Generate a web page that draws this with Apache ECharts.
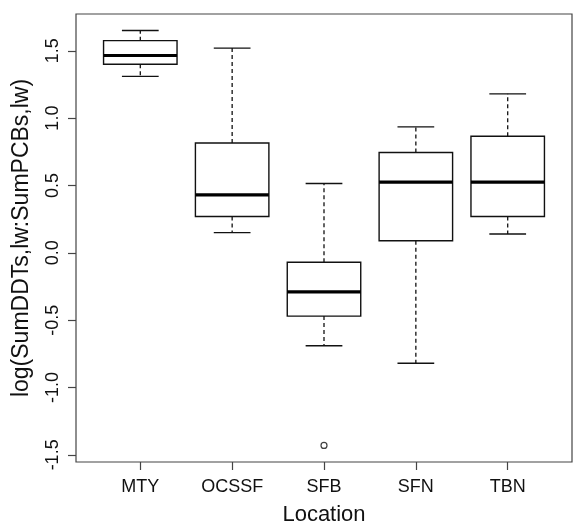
<!DOCTYPE html>
<html>
<head>
<meta charset="utf-8">
<script src="https://cdn.jsdelivr.net/npm/echarts@6/dist/echarts.min.js"></script>
<style>
  html, body { margin: 0; padding: 0; background: #fff; }
  #chart { width: 573px; height: 523px; }
</style>
</head>
<body>
<div id="chart"></div>
<script>
// locations along the x axis
const locations = ["MTY", "OCSSF", "SFB", "SFN", "TBN"];
// five-number summaries: lower whisker, Q1, median, Q3, upper whisker
const lowerWhisker = [1.31, 0.15, -0.69, -0.82, 0.14];
const q1 = [1.40, 0.27, -0.47, 0.09, 0.27];
const median = [1.465, 0.43, -0.29, 0.525, 0.525];
const q3 = [1.575, 0.815, -0.07, 0.745, 0.865];
const upperWhisker = [1.65, 1.52, 0.515, 0.935, 1.18];
// outliers: [location index, value]
const outliers = [[2, -1.43]];
// tick labels on the y axis
const yTicks = [-1.5, -1.0, -0.5, 0.0, 0.5, 1.0, 1.5];

const boxData = locations.map(function (name, i) {
  return [i + 1, lowerWhisker[i], q1[i], median[i], q3[i], upperWhisker[i]];
});
const outlierData = outliers.map(function (o) {
  return [o[0] + 1, o[1]];
});

const font = "'Liberation Sans', Arial, sans-serif";
const ink = "#111";

const chart = echarts.init(document.getElementById("chart"));
chart.setOption({
  animation: false,
  backgroundColor: "#fff",
  grid: {
    left: 76,
    top: 14,
    width: 496,
    height: 448,
    outerBoundsMode: "none",
    containLabel: false,
    show: true,
    borderColor: "#444",
    borderWidth: 1.2
  },
  xAxis: {
    type: "value",
    min: 0.3,
    max: 5.7,
    name: "Location",
    nameLocation: "middle",
    nameGap: 42,
    nameTextStyle: { fontFamily: font, fontSize: 22, color: ink },
    axisLine: { show: false, onZero: false },
    splitLine: { show: false },
    axisTick: {
      show: true,
      inside: false,
      length: 8,
      customValues: [1, 2, 3, 4, 5],
      lineStyle: { color: "#444", width: 1.2 }
    },
    axisLabel: {
      customValues: [1, 2, 3, 4, 5],
      margin: 16,
      fontFamily: font,
      fontSize: 18,
      color: ink,
      formatter: function (v) {
        return locations[Math.round(v) - 1] || "";
      }
    }
  },
  yAxis: {
    type: "value",
    min: -1.553,
    max: 1.773,
    name: "log(SumDDTs,lw:SumPCBs,lw)",
    nameLocation: "middle",
    nameRotate: 90,
    nameGap: 43,
    nameTextStyle: { fontFamily: font, fontSize: 23, color: ink },
    axisLine: { show: false, onZero: false },
    splitLine: { show: false },
    axisTick: {
      show: true,
      inside: false,
      length: 8,
      customValues: yTicks,
      lineStyle: { color: "#444", width: 1.2 }
    },
    axisLabel: {
      customValues: yTicks,
      rotate: 90,
      margin: 14,
      fontFamily: font,
      fontSize: 18,
      color: ink,
      formatter: function (v) {
        return v.toFixed(1);
      }
    }
  },
  series: [
    {
      type: "custom",
      data: boxData,
      encode: { x: 0, y: [1, 2, 3, 4, 5] },
      renderItem: function (params, api) {
        const x = api.value(0);
        const lo = api.coord([x, api.value(1)]);
        const b1 = api.coord([x, api.value(2)]);
        const md = api.coord([x, api.value(3)]);
        const b3 = api.coord([x, api.value(4)]);
        const hi = api.coord([x, api.value(5)]);
        const boxW = api.size([0.8, 0])[0];
        const half = boxW / 2;
        const cap = half / 2;
        const cx = lo[0];
        const solid = { stroke: "#111", lineWidth: 1.4, fill: null };
        const dashed = { stroke: "#111", lineWidth: 1.3, lineDash: [4, 3], fill: null };
        return {
          type: "group",
          children: [
            { type: "line", shape: { x1: cx, y1: b3[1], x2: cx, y2: hi[1] }, style: dashed },
            { type: "line", shape: { x1: cx, y1: b1[1], x2: cx, y2: lo[1] }, style: dashed },
            { type: "line", shape: { x1: cx - cap, y1: hi[1], x2: cx + cap, y2: hi[1] }, style: solid },
            { type: "line", shape: { x1: cx - cap, y1: lo[1], x2: cx + cap, y2: lo[1] }, style: solid },
            {
              type: "rect",
              shape: { x: cx - half, y: b3[1], width: boxW, height: b1[1] - b3[1] },
              style: { stroke: "#111", lineWidth: 1.4, fill: "#fff" }
            },
            {
              type: "line",
              shape: { x1: cx - half, y1: md[1], x2: cx + half, y2: md[1] },
              style: { stroke: "#000", lineWidth: 3.2 }
            }
          ]
        };
      }
    },
    {
      type: "scatter",
      data: outlierData,
      symbol: "circle",
      symbolSize: 6,
      itemStyle: { color: "#fff", borderColor: "#111", borderWidth: 1.2 }
    }
  ]
});
</script>
</body>
</html>
